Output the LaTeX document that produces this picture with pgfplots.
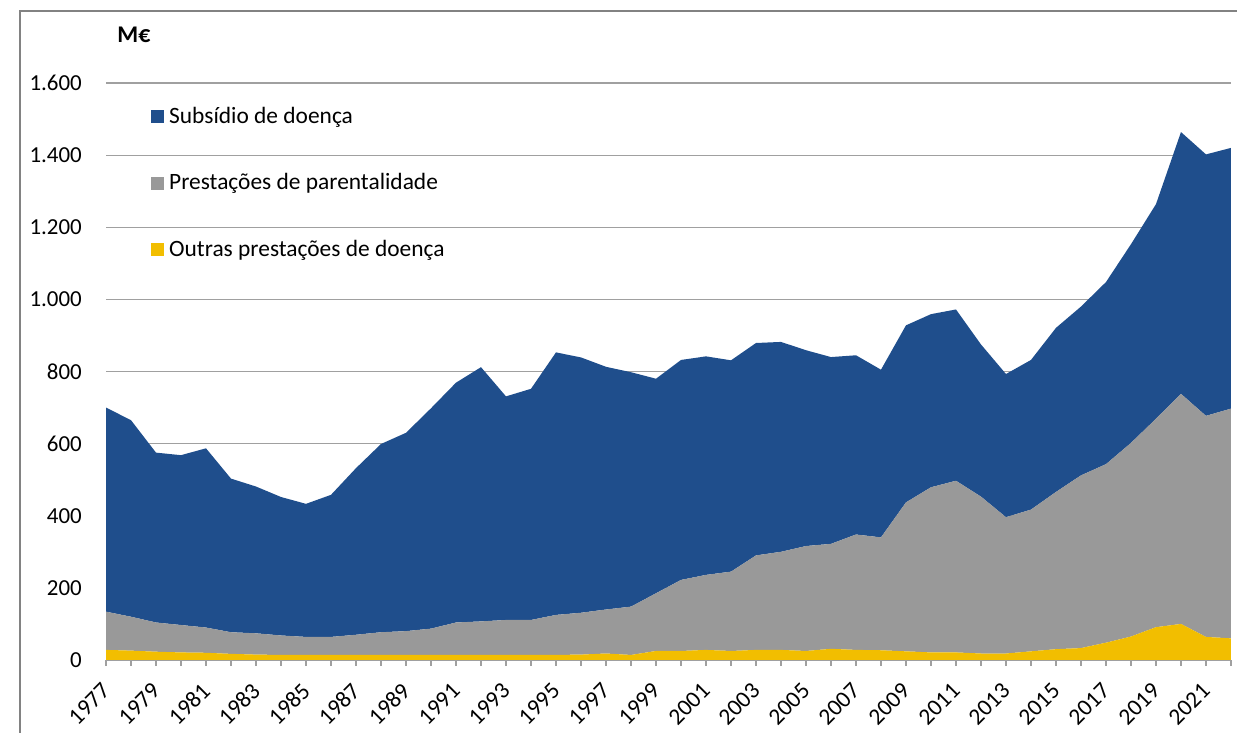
\documentclass[border=0pt]{standalone}
\usepackage{fontspec}
\setmainfont{Carlito}
\usepackage{pgfplots}
\usepackage{pgfplotstable}
\pgfplotsset{compat=1.18}
\definecolor{cblue}{RGB}{31,78,140}
\definecolor{cgray}{RGB}{153,153,153}
\definecolor{cyellow}{RGB}{242,190,0}
\definecolor{cgrid}{RGB}{160,160,160}
\definecolor{cframe}{RGB}{130,130,130}
\pgfplotstableread{
year out par sub
1977 28 106 566
1978 26 94 545
1979 23 81 471
1980 21 76 471
1981 20 70 497
1982 17 60 426
1983 15 59 407
1984 14 54 384
1985 14 50 369
1986 14 50 394
1987 14 56 462
1988 14 63 522
1989 14 66 550
1990 14 73 611
1991 14 90 665
1992 14 93 705
1993 14 97 620
1994 14 97 641
1995 14 111 728
1996 15 116 708
1997 18 122 673
1998 14 134 650
1999 25 160 595
2000 25 197 610
2001 28 208 606
2002 25 220 586
2003 28 262 589
2004 28 272 582
2005 25 291 543
2006 31 291 518
2007 28 320 497
2008 27 313 465
2009 24 413 491
2010 21 458 480
2011 21 476 475
2012 18 435 422
2013 18 378 397
2014 24 393 415
2015 30 436 455
2016 33 479 468
2017 48 495 505
2018 65 537 551
2019 91 578 595
2020 100 638 726
2021 64 613 725
2022 60 637 723
}\data
\begin{document}
\begin{tikzpicture}
\useasboundingbox (0,0) rectangle (1237bp,733bp);
\draw[cframe, line width=1.5bp] (20bp,-2bp) -- (20bp,722bp) -- (1240bp,722bp);
\begin{axis}[
  at={(106bp,73bp)}, anchor=south west,
  width=1125bp, height=577bp, scale only axis,
  xmin=1977, xmax=2022, ymin=0, ymax=1600,
  enlargelimits=false,
  stack plots=y,
  axis x line*=bottom, axis y line*=left,
  y axis line style={draw=none},
  x axis line style={cgrid, line width=1.3bp},
  xtick={1977,1979,...,2021},
  xticklabels={1977,1979,1981,1983,1985,1987,1989,1991,1993,1995,1997,1999,2001,2003,2005,2007,2009,2011,2013,2015,2017,2019,2021},
  minor xtick={1978,1980,...,2022},
  ytick={0,200,...,1600},
  tick align=outside,
  major tick length=6bp, minor tick length=6bp,
  xtick style={cgrid, line width=1.3bp},
  minor tick style={cgrid, line width=1.3bp},
  ytick style={draw=none},
  ymajorgrids,
  grid style={cgrid, line width=1.2bp},
  minor grid style={draw=none},
  /pgf/number format/.cd, 1000 sep={.}, assume math mode=true,
  /pgfplots/.cd,
  yticklabel style={font=\fontsize{23}{27}\selectfont, text=black, anchor=east, inner sep=0pt, xshift=-18bp},
  xticklabel style={font=\fontsize{23.5}{27}\selectfont, text=black, xshift=0bp, yshift=-21bp, rotate=45, anchor=east, inner sep=0pt},
  legend style={draw=none, fill=none, at={(0.04,0.958)}, anchor=north west,
    font=\fontsize{23.5}{27}\selectfont, row sep=48.5bp, inner sep=0pt,
    nodes={inner sep=0pt, anchor=west}},
  legend cell align=left,
  reverse legend,
  legend image code/.code={\fill[#1] (0bp,-7bp) rectangle (13bp,6bp);},
]
\addplot[fill=cyellow, draw=none] table[x=year,y=out] {\data} \closedcycle;
\addlegendentry{\hspace{5bp}Outras prestações de doença}
\addplot[fill=cgray, draw=none] table[x=year,y=par] {\data} \closedcycle;
\addlegendentry{\hspace{5bp}Prestações de parentalidade}
\addplot[fill=cblue, draw=none] table[x=year,y=sub] {\data} \closedcycle;
\addlegendentry{\hspace{5bp}Subsídio de doença}
\end{axis}
\node[font=\bfseries\fontsize{24}{28}\selectfont, anchor=center] at (134bp,698bp) {M€};
\end{tikzpicture}
\end{document}
